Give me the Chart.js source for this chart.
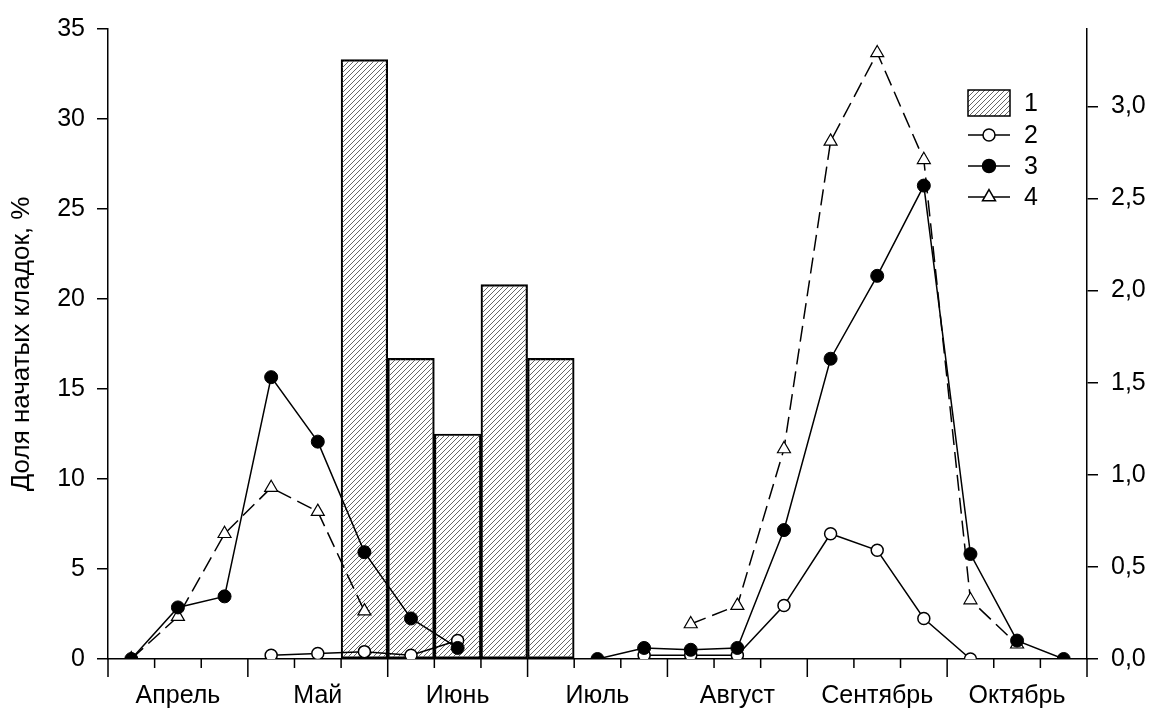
<!DOCTYPE html>
<html>
<head>
<meta charset="utf-8">
<script src="https://cdn.jsdelivr.net/npm/chart.js@4.4.1/dist/chart.umd.min.js"></script>
<style>
  html, body { margin: 0; padding: 0; background: #fff; }
</style>
</head>
<body>
<canvas id="c" width="1153" height="720"></canvas>
<script>
// months, each split into three decades (10-day periods)
var months = ["Апрель", "Май", "Июнь", "Июль", "Август", "Сентябрь", "Октябрь"];
var decades = [];
months.forEach(function(m) { decades.push(m + " I", m + " II", m + " III"); });

// 1 - bars, left axis (%)
var share1 = [null, null, null, null, null, 33.3, 16.7, 12.5, 20.8, 16.7, null, null, null, null, null, null, null, null, null, null, null];
// 2, 3, 4 - lines, right axis
var share2 = [null, null, null, 0.02, 0.03, 0.04, 0.02, 0.10, null, null, null, 0.02, 0.02, 0.02, 0.29, 0.68, 0.59, 0.22, 0, null, null];
var share3 = [0, 0.28, 0.34, 1.53, 1.18, 0.58, 0.22, 0.06, null, null, 0, 0.06, 0.05, 0.06, 0.70, 1.63, 2.08, 2.57, 0.57, 0.10, 0];
var share4 = [0, 0.23, 0.68, 0.93, 0.80, 0.26, null, null, null, null, null, null, 0.19, 0.29, 1.14, 2.81, 3.29, 2.71, 0.32, 0.08, null];

var leftTicks = [0, 35, 5];
var rightTicks = [0, 3.42, 0.5];
var yTitle = "Доля начатых кладок, %";
var legendLabels = ["1", "2", "3", "4"];

var FONT = "'Liberation Sans', Arial, sans-serif";

function hatch() {
    var c = document.createElement("canvas");
    c.width = 5; c.height = 5;
    var g = c.getContext("2d");
    g.strokeStyle = "#555";
    g.lineWidth = 0.9;
    g.beginPath();
    g.moveTo(0, 5); g.lineTo(5, 0);
    g.moveTo(-1, 1); g.lineTo(1, -1);
    g.moveTo(4, 6); g.lineTo(6, 4);
    g.stroke();
    return g.createPattern(c, "repeat");
}
var hatchFill = hatch();

// x tick marks: short at decade bounds, long at month bounds
var xMarks = {
    id: "xMarks",
    afterDraw: function(chart) {
        var ctx = chart.ctx, xs = chart.scales.x, ca = chart.chartArea;
        var w = xs.getPixelForValue(1) - xs.getPixelForValue(0);
        var x0 = xs.getPixelForValue(0) - w / 2;
        ctx.save();
        ctx.strokeStyle = "#000";
        ctx.lineWidth = 1.5;
        ctx.beginPath();
        for (var k = 0; k <= decades.length; k++) {
            var x = x0 + k * w;
            ctx.moveTo(x, ca.bottom);
            ctx.lineTo(x, ca.bottom + (k % 3 === 0 ? 18 : 9));
        }
        ctx.stroke();
        ctx.restore();
    }
};

// legend: hatched box for bars, line+marker for the rest
var legendBox = {
    id: "legendBox",
    afterDraw: function(chart) {
        var ctx = chart.ctx;
        var lx = 968, rx = 1010, tx = 1024;
        var rows = [103, 135, 166, 197];
        ctx.save();
        ctx.lineWidth = 1.5;
        ctx.strokeStyle = "#000";
        ctx.fillStyle = hatchFill;
        ctx.fillRect(lx, rows[0] - 13, rx - lx, 26);
        ctx.strokeRect(lx, rows[0] - 13, rx - lx, 26);
        for (var i = 1; i < 4; i++) {
            var ds = chart.data.datasets[i];
            var y = rows[i];
            ctx.beginPath();
            ctx.moveTo(lx, y); ctx.lineTo(rx, y);
            ctx.stroke();
            ctx.fillStyle = ds.pointBackgroundColor;
            ctx.lineWidth = 1.5;
            Chart.helpers.drawPoint(ctx, {
                pointStyle: ds.pointStyle,
                radius: ds.pointRadius,
                rotation: 0,
                borderWidth: 1.5
            }, (lx + rx) / 2, y);
        }
        ctx.fillStyle = "#000";
        ctx.font = "25px " + FONT;
        ctx.textBaseline = "middle";
        legendLabels.forEach(function(t, i) { ctx.fillText(t, tx, rows[i] + 1); });
        ctx.restore();
    }
};

var tickFont = { family: FONT, size: 25 };

new Chart(document.getElementById("c"), {
    type: "bar",
    data: {
        labels: decades,
        datasets: [{
            label: legendLabels[0],
            data: share1,
            yAxisID: "y",
            backgroundColor: hatchFill,
            borderColor: "#000",
            borderWidth: 1.5,
            borderSkipped: false,
            barPercentage: 1,
            categoryPercentage: 1,
            order: 10
        }, {
            type: "line",
            label: legendLabels[1],
            data: share2,
            yAxisID: "y1",
            borderColor: "#000",
            borderWidth: 1.5,
            pointStyle: "circle",
            pointRadius: 6,
            pointBackgroundColor: "#fff",
            pointBorderColor: "#000",
            pointBorderWidth: 1.5,
            spanGaps: false,
            order: 2
        }, {
            type: "line",
            label: legendLabels[2],
            data: share3,
            yAxisID: "y1",
            borderColor: "#000",
            borderWidth: 1.5,
            pointStyle: "circle",
            pointRadius: 6.5,
            pointBackgroundColor: "#000",
            pointBorderColor: "#000",
            pointBorderWidth: 1,
            spanGaps: false,
            order: 1
        }, {
            type: "line",
            label: legendLabels[3],
            data: share4,
            yAxisID: "y1",
            borderColor: "#000",
            borderWidth: 1.5,
            borderDash: [16, 7],
            pointStyle: "triangle",
            pointRadius: 7.5,
            pointBackgroundColor: "#fff",
            pointBorderColor: "#000",
            pointBorderWidth: 1.2,
            spanGaps: false,
            order: 3
        }]
    },
    options: {
        responsive: false,
        animation: false,
        devicePixelRatio: 1,
        layout: { padding: { top: 29, left: 0, right: 0, bottom: 0 } },
        plugins: {
            legend: { display: false },
            tooltip: { enabled: false }
        },
        scales: {
            x: {
                type: "category",
                offset: true,
                grid: { display: false, offset: true },
                border: { display: true, color: "#000", width: 1.5 },
                ticks: {
                    autoSkip: false,
                    maxRotation: 0,
                    padding: 14,
                    color: "#000",
                    font: tickFont,
                    callback: function(v, i) { return i % 3 === 1 ? months[Math.floor(i / 3)] : ""; }
                },
                afterFit: function(s) { s.height = 61; }
            },
            y: {
                position: "left",
                min: leftTicks[0],
                max: leftTicks[1],
                ticks: { stepSize: leftTicks[2], padding: 12, color: "#000", font: tickFont },
                grid: { drawOnChartArea: false, drawTicks: true, tickLength: 11, color: "#000", lineWidth: 1.5 },
                border: { display: true, color: "#000", width: 1.5 },
                title: { display: true, text: yTitle, color: "#000", font: { family: FONT, size: 26 }, padding: { top: 6, bottom: 0 } },
                afterFit: function(s) { s.width = 108; }
            },
            y1: {
                position: "right",
                min: rightTicks[0],
                max: rightTicks[1],
                ticks: {
                    stepSize: rightTicks[2],
                    includeBounds: false,
                    padding: 13,
                    color: "#000",
                    font: tickFont,
                    callback: function(v) { return v.toFixed(1).replace(".", ","); }
                },
                grid: { drawOnChartArea: false, drawTicks: true, tickLength: 11, color: "#000", lineWidth: 1.5 },
                border: { display: true, color: "#000", width: 1.5 },
                afterFit: function(s) { s.width = 66; }
            }
        }
    },
    plugins: [xMarks, legendBox]
});
</script>
</body>
</html>
